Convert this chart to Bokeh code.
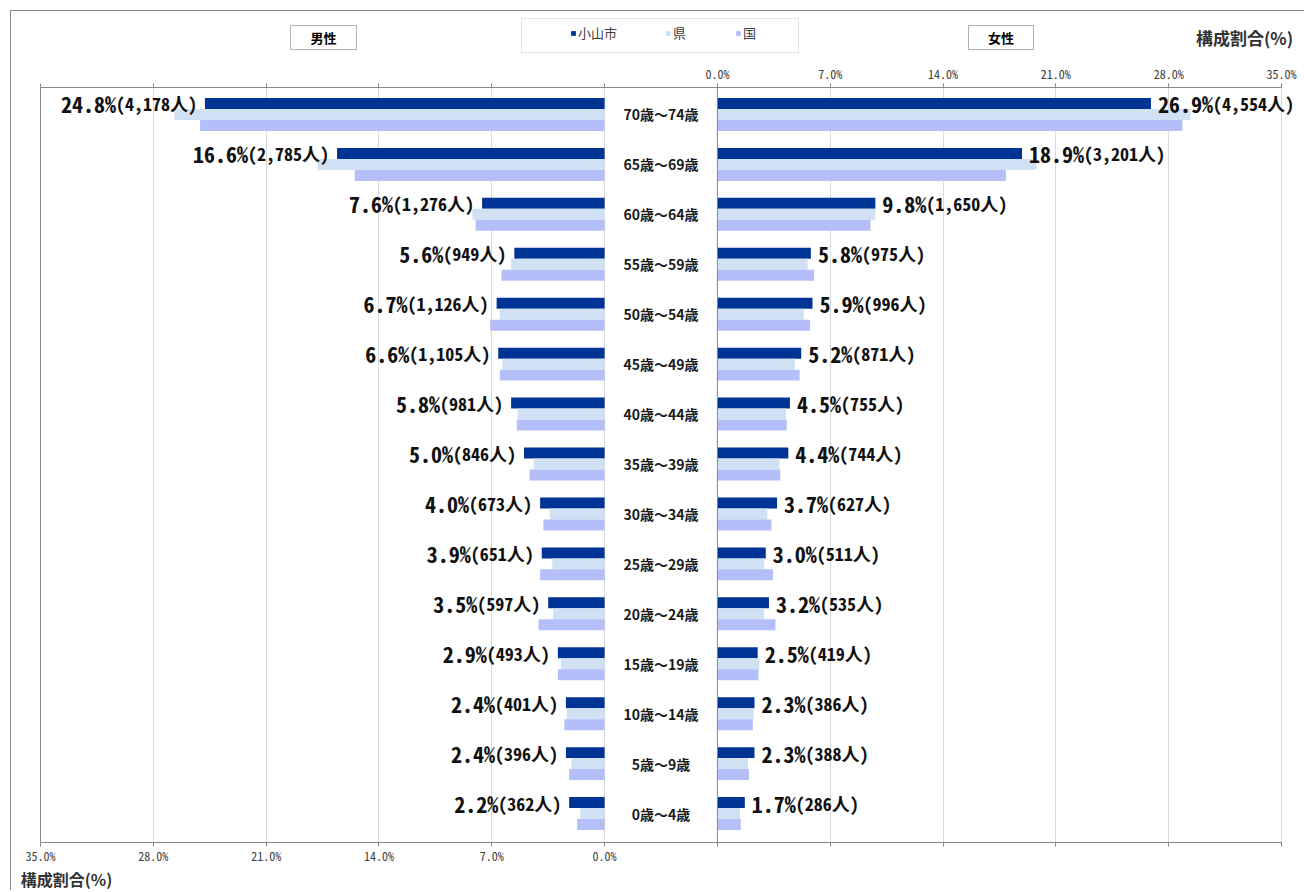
from bokeh.plotting import figure
from bokeh.models import (Range1d, FixedTicker, LinearAxis, Span, Label, BoxAnnotation,
                          Legend, LegendItem, ColumnDataSource, Grid)
from bokeh.layouts import column
from bokeh.core.properties import value
from bokeh.embed import file_html
from bokeh.resources import INLINE

# ---------------- data (top row first) ----------------
ages = ["70歳～74歳", "65歳～69歳", "60歳～64歳", "55歳～59歳", "50歳～54歳",
        "45歳～49歳", "40歳～44歳", "35歳～39歳", "30歳～34歳", "25歳～29歳",
        "20歳～24歳", "15歳～19歳", "10歳～14歳", "5歳～9歳", "0歳～4歳"]

male_city = [24.8, 16.6, 7.6, 5.6, 6.7, 6.6, 5.8, 5.0, 4.0, 3.9, 3.5, 2.9, 2.4, 2.4, 2.2]
male_city_n = [4178, 2785, 1276, 949, 1126, 1105, 981, 846, 673, 651, 597, 493, 401, 396, 362]
male_pref = [26.7, 17.8, 8.2, 5.8, 6.5, 6.35, 5.4, 4.4, 3.4, 3.25, 3.2, 2.7, 2.35, 2.05, 1.5]
male_nat = [25.1, 15.5, 8.0, 6.4, 7.1, 6.5, 5.45, 4.65, 3.8, 4.0, 4.1, 2.9, 2.5, 2.2, 1.7]

female_city = [26.9, 18.9, 9.8, 5.8, 5.9, 5.2, 4.5, 4.4, 3.7, 3.0, 3.2, 2.5, 2.3, 2.3, 1.7]
female_city_n = [4554, 3201, 1650, 975, 996, 871, 755, 744, 627, 511, 535, 419, 386, 388, 286]
female_pref = [29.35, 19.8, 9.8, 5.6, 5.35, 4.8, 4.25, 3.85, 3.1, 2.9, 2.9, 2.6, 2.25, 1.9, 1.4]
female_nat = [28.85, 17.9, 9.5, 6.0, 5.75, 5.1, 4.3, 3.9, 3.35, 3.45, 3.6, 2.55, 2.2, 1.95, 1.45]

series_names = ["小山市", "県", "国"]
axis_ticks_pct = [0, 7, 14, 21, 28, 35]
axis_title = "構成割合(%)"
male_title = "男性"
female_title = "女性"

# ---------------- styling / layout ----------------
C_CITY, C_PREF, C_NAT = "#003494", "#CFE1F2", "#B4BEF8"
C_AXIS = "#868686"
JP = "Noto Sans CJK JP"
MONO = "Noto Sans Mono CJK JP"
GAP = 7.0            # width of the centre column in % units
BAR_H = 0.22
PCT_SIZE, PAR_SIZE = 22, 18

W = 1304
H_HEAD, H_MAIN, H_FOOT = 60, 806, 24
PX = 1241.0 / 77.0          # pixels per percent unit
PANEL_L = 40                # page px of the 35% edge of the male panel
BORDER_X = 10               # outer chart border

n = len(ages)
ys = [n - 1 - i for i in range(n)]


def text_w(s, size):
    w = 0.0
    for ch in s:
        w += 1.0 if ord(ch) > 0x2000 else 0.5
    return w * size


pct_m = [f"{v:.1f}%" for v in male_city]
par_m = [f"({c:,}人)" for c in male_city_n]
pct_f = [f"{v:.1f}%" for v in female_city]
par_f = [f"({c:,}人)" for c in female_city_n]

src = ColumnDataSource(dict(
    y=ys,
    y_city=[y + BAR_H for y in ys],
    y_pref=ys,
    y_nat=[y - BAR_H for y in ys],
    age=ages,
    m_city=[-v for v in male_city], m_pref=[-v for v in male_pref], m_nat=[-v for v in male_nat],
    f_city=[GAP + v for v in female_city], f_pref=[GAP + v for v in female_pref],
    f_nat=[GAP + v for v in female_nat],
    pct_m=pct_m, par_m=par_m, pct_f=pct_f, par_f=par_f,
    off_pct_m=[-8 - text_w(s, PAR_SIZE) for s in par_m],
    off_par_f=[7 + text_w(s, PCT_SIZE) for s in pct_f],
))


def prep(fig):
    fig.center = [r for r in fig.center if not isinstance(r, Grid)]
    fig.outline_line_color = None
    fig.background_fill_alpha = 0
    fig.border_fill_alpha = 0


# ================= header =================
head = figure(width=W, height=H_HEAD, output_backend="svg", toolbar_location=None,
              x_range=Range1d(0, W), y_range=Range1d(H_HEAD, 0),
              x_axis_location=None, y_axis_location=None,
              min_border_left=0, min_border_right=0, min_border_top=0, min_border_bottom=0)
prep(head)

for (l, r, txt) in ((290, 356, male_title), (968, 1033, female_title)):
    head.add_layout(BoxAnnotation(left=l, right=r, top=25, bottom=49, fill_color="white",
                                  line_color="black", line_width=1))
    head.add_layout(Label(x=(l + r) / 2, y=37, text=txt, text_align="center",
                          text_baseline="middle", text_font=JP, text_font_style="bold",
                          text_font_size="13px", text_color="black"))
head.add_layout(BoxAnnotation(left=521, right=798, top=18, bottom=52, fill_color="white",
                              line_color="#A6A6A6", line_width=1))
# legend swatch renderers (a single empty row, nothing is drawn by them)
lr = [head.hbar(y=[float("nan")], left=[0], right=[0], height=1, fill_color=c, line_color=None)
      for c in (C_CITY, C_PREF, C_NAT)]
legend = Legend(items=[LegendItem(label=nm, renderers=[r]) for nm, r in zip(series_names, lr)],
                orientation="horizontal", location=(570, H_HEAD - 42), padding=0, margin=0,
                spacing=48, glyph_width=6, glyph_height=6, label_standoff=2, label_height=14,
                label_width=14,
                label_text_font=JP, label_text_font_size="13px", label_text_color="#404040",
                border_line_color=None, background_fill_alpha=0)
head.add_layout(legend)
head.add_layout(Label(x=1244, y=37, text=axis_title, text_align="center", text_baseline="middle",
                      text_font=JP, text_font_style="bold", text_font_size="17px",
                      text_color="#333333"))

# ================= main chart =================
x_start = -35 - PANEL_L / PX
x_end = x_start + W / PX
p = figure(width=W, height=H_MAIN, output_backend="svg", toolbar_location=None,
           x_range=Range1d(x_start, x_end), y_range=Range1d(-0.58, n - 1 + 0.54),
           x_axis_location=None, y_axis_location=None,
           min_border_left=0, min_border_right=0, min_border_top=87 - H_HEAD,
           min_border_bottom=H_HEAD + H_MAIN - 843)
prep(p)

grid_ticks = [-28, -21, -14, -7, 0] + [GAP + t for t in axis_ticks_pct[1:]]
p.add_layout(Grid(dimension=0, ticker=FixedTicker(ticks=grid_ticks),
                  grid_line_color="#D9D9D9", grid_line_width=1))
p.add_layout(Span(location=-35, dimension="height", line_color=C_AXIS, line_width=1))
p.add_layout(Span(location=GAP, dimension="height", line_color=C_AXIS, line_width=1))

all_ticks = [-t for t in reversed(axis_ticks_pct)] + [GAP + t for t in axis_ticks_pct]
top_over, bot_over = {}, {}
for t in axis_ticks_pct:
    top_over[int(GAP + t)] = f"{t:.1f}%"
    top_over[-t] = ""
    bot_over[-t] = f"{t:.1f}%"
    bot_over[int(GAP + t)] = ""
top_over[0] = ""
bot_over[0] = "0.0%"

for loc, over, standoff in (("above", top_over, 2), ("below", bot_over, 0)):
    ax = LinearAxis(ticker=FixedTicker(ticks=all_ticks), major_label_overrides=over,
                    bounds=(-35, 35 + GAP))
    ax.axis_line_color = C_AXIS
    ax.major_tick_line_color = C_AXIS
    ax.major_tick_out = 4
    ax.major_tick_in = 0
    ax.minor_tick_line_color = None
    ax.major_label_standoff = standoff
    ax.major_label_text_font = MONO
    ax.major_label_text_font_size = "12px"
    ax.major_label_text_color = "#404040"
    p.add_layout(ax, loc)

for left, right, yname, col in (("m_city", 0, "y_city", C_CITY), ("m_pref", 0, "y_pref", C_PREF),
                                ("m_nat", 0, "y_nat", C_NAT), (GAP, "f_city", "y_city", C_CITY),
                                (GAP, "f_pref", "y_pref", C_PREF), (GAP, "f_nat", "y_nat", C_NAT)):
    p.hbar(y=yname, left=left, right=right, height=BAR_H, source=src,
           fill_color=col, line_color=None)

p.text(x=GAP / 2, y="y", text="age", source=src, text_align="center", text_baseline="middle",
       text_font=value(JP), text_font_style="bold", text_font_size="14px", text_color="#1a1a1a")

common = dict(source=src, text_baseline="middle", text_font=value(MONO),
              text_font_style="bold", text_color="#111111")
p.text(x="m_city", y="y_city", text="par_m", x_offset=-8, text_align="right",
       text_font_size=f"{PAR_SIZE}px", **common)
p.text(x="m_city", y="y_city", text="pct_m", x_offset="off_pct_m", text_align="right",
       text_font_size=f"{PCT_SIZE}px", **common)
p.text(x="f_city", y="y_city", text="pct_f", x_offset=7, text_align="left",
       text_font_size=f"{PCT_SIZE}px", **common)
p.text(x="f_city", y="y_city", text="par_f", x_offset="off_par_f", text_align="left",
       text_font_size=f"{PAR_SIZE}px", **common)

# ================= footer =================
foot = figure(width=W, height=H_FOOT, output_backend="svg", toolbar_location=None,
              x_range=Range1d(0, W), y_range=Range1d(H_FOOT, 0),
              x_axis_location=None, y_axis_location=None,
              min_border_left=0, min_border_right=0, min_border_top=0, min_border_bottom=0)
prep(foot)
foot.add_layout(Label(x=66, y=12, text=axis_title, text_align="center", text_baseline="middle",
                      text_font=JP, text_font_style="bold", text_font_size="16px",
                      text_color="#333333"))

# outer chart border (left and top edges), drawn once behind all three parts
border_css = {
    "background-color": "white",
    "background-image": f"linear-gradient({C_AXIS}, {C_AXIS}), linear-gradient({C_AXIS}, {C_AXIS})",
    "background-size": f"1px calc(100% - {BORDER_X}px), calc(100% - {BORDER_X}px) 1px",
    "background-position": f"{BORDER_X}px {BORDER_X}px, {BORDER_X}px {BORDER_X}px",
    "background-repeat": "no-repeat",
}
layout = column(head, p, foot, spacing=0, styles=border_css)
open("out.html", "w").write(file_html(layout, INLINE))
